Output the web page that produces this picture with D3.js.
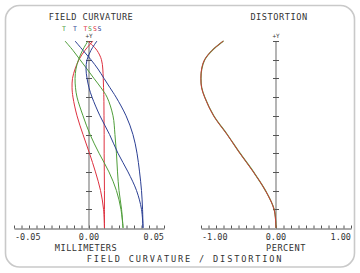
<!DOCTYPE html>
<html><head><meta charset="utf-8">
<script src="https://cdn.jsdelivr.net/npm/d3@7"></script>
<style>html,body{margin:0;padding:0;background:#fff;}svg{display:block;}</style>
</head><body>
<script>
// ---- data ----
const field = [0, 0.1, 0.2, 0.3, 0.4, 0.5, 0.6, 0.7, 0.75, 0.8, 0.85, 0.9, 0.95, 1.0];
// field curvature (mm)
const greenT = [0.0227, 0.0217, 0.0200, 0.0190, 0.0183, 0.0173, 0.0160, 0.0120, 0.0080, 0.0033, -0.0013, -0.0060, -0.0107, -0.0160];
const greenS = [0.0227, 0.0213, 0.0183, 0.0133, 0.0067, 0.0007, -0.0040, -0.0080, -0.0090, -0.0093, -0.0087, -0.0070, -0.0043, -0.0007];
const blueT  = [0.0360, 0.0357, 0.0350, 0.0337, 0.0320, 0.0293, 0.0247, 0.0180, 0.0140, 0.0100, 0.0060, 0.0013, -0.0040, -0.0093];
const blueS  = [0.0360, 0.0350, 0.0317, 0.0260, 0.0193, 0.0137, 0.0073, 0.0020, 0.0000, -0.0013, -0.0020, -0.0013, 0.0013, 0.0053];
const redT   = [0.0103, 0.0103, 0.0103, 0.0102, 0.0101, 0.0101, 0.0100, 0.0099, 0.0097, 0.0095, 0.0092, 0.0083, 0.0053, -0.0007];
const redS   = [0.0103, 0.0097, 0.0077, 0.0043, 0.0003, -0.0040, -0.0080, -0.0107, -0.0113, -0.0110, -0.0093, -0.0067, -0.0027, 0.0027];
// distortion (percent)
const distGreen = [0, -0.025, -0.14, -0.30, -0.48, -0.65, -0.83, -0.95, -0.99, -1.00, -0.99, -0.95, -0.85, -0.70];
const distRed   = [0, -0.026, -0.141, -0.302, -0.482, -0.652, -0.832, -0.952, -0.992, -1.002, -0.992, -0.952, -0.852, -0.702];
// ticks / labels
const fcTickLabels = ["-0.05", "0.00", "0.05"];
const fcTickValues = [-0.05, 0, 0.05];
const dTickLabels = ["-1.00", "0.00", "1.00"];
const dTickValues = [-1, 0, 1];
const legendText = ["T", "T", "T", "S", "S", "S"];
const legendColor = ["green", "blue", "red", "green", "red", "blue"];
const legendAt = [-0.0167, -0.0093, -0.0023, 0.0007, 0.0040, 0.0070];

const colors = {green:"#4f9e3a", blue:"#2b3f94", red:"#de3140"};
const W = 360, H = 273;
const font = "'DejaVu Sans Mono', monospace";
const axisColor = "#555";

const svg = d3.select("body").append("svg").attr("width", W).attr("height", H);
svg.append("rect").attr("width", W).attr("height", H).attr("fill", "#fff");
svg.append("rect").attr("x", 5.5).attr("y", 5.5).attr("width", 349).attr("height", 261.5)
  .attr("rx", 14).attr("fill", "none").attr("stroke", "#c9c9c9").attr("stroke-width", 1.6);

const yS = d3.scaleLinear().domain([0, 1]).range([228, 41]);
const xFC = d3.scaleLinear().domain([-0.05, 0.05]).range([14, 164]);
const xD = d3.scaleLinear().domain([-1, 1]).range([201, 351]);

function drawAxes(x, zeroX, step, tickVals, tickLabels) {
  const g = svg.append("g");
  const ax = d3.axisTop(x).tickValues(d3.range(x.domain()[0], x.domain()[1] + step/2, step))
    .tickSizeInner(3).tickSizeOuter(0).tickFormat("");
  const gx = g.append("g").attr("transform", "translate(0,228.5)").call(ax);
  gx.selectAll("path,line").attr("stroke", axisColor).attr("stroke-width", 1);
  g.append("line").attr("x1", zeroX).attr("x2", zeroX).attr("y1", yS(1)).attr("y2", yS(0))
    .attr("stroke", "#777").attr("stroke-width", 1.1);
  g.selectAll(".yt").data(yS.ticks(10).filter(d => d > 0)).enter().append("line")
    .attr("x1", zeroX - 3).attr("x2", zeroX + 3).attr("y1", d => Math.round(yS(d)) + 0.5).attr("y2", d => Math.round(yS(d)) + 0.5)
    .attr("stroke", axisColor).attr("stroke-width", 1);
  tickVals.forEach((v, i) => {
    const anchor = i === 0 ? "start" : (i === tickVals.length - 1 ? "end" : "middle");
    g.append("text").attr("x", x(v) + (i === 0 ? 1 : 0)).attr("y", 240).attr("text-anchor", anchor)
      .attr("font-family", font).attr("font-size", 8.5).attr("fill", "#333").text(tickLabels[i]);
  });
  g.append("text").attr("x", zeroX).attr("y", 37.5).attr("text-anchor", "middle")
    .attr("font-family", font).attr("font-size", 6).attr("fill", "#333").text("+Y");
}

drawAxes(xFC, xFC(0), 0.005, fcTickValues, fcTickLabels);
drawAxes(xD, xD(0), 0.1, dTickValues, dTickLabels);

const line = (x) => d3.line().x(d => x(d[0])).y(d => yS(d[1])).curve(d3.curveCatmullRom.alpha(0.5));
const series = [
  {v: redT, c: "red"}, {v: redS, c: "red"},
  {v: greenT, c: "green"}, {v: greenS, c: "green"},
  {v: blueT, c: "blue"}, {v: blueS, c: "blue"}
];
series.forEach(s => {
  svg.append("path").datum(s.v.map((v, i) => [v, field[i]])).attr("d", line(xFC))
    .attr("fill", "none").attr("stroke", colors[s.c]).attr("stroke-width", 1);
});
svg.append("path").datum(distGreen.map((v, i) => [v, field[i]])).attr("d", line(xD))
  .attr("fill", "none").attr("stroke", colors.green).attr("stroke-width", 1.2);
svg.append("path").datum(distRed.map((v, i) => [v, field[i]])).attr("d", line(xD))
  .attr("fill", "none").attr("stroke", "#cc3a3a").attr("stroke-width", 1);

legendText.forEach((t, i) => {
  svg.append("text").attr("x", xFC(legendAt[i])).attr("y", 30.5).attr("text-anchor", "middle")
    .attr("font-family", font).attr("font-size", 6.5).attr("fill", colors[legendColor[i]]).text(t);
});

const txt = (x, y, s, size, ls) => svg.append("text").attr("x", x).attr("y", y).attr("text-anchor", "middle")
  .attr("font-family", font).attr("font-size", size).attr("letter-spacing", ls).attr("fill", "#333").text(s);
txt(91, 19.5, "FIELD CURVATURE", 8.6, 0.45);
txt(279, 19.5, "DISTORTION", 8.6, 0.55);
txt(86, 251, "MILLIMETERS", 8.6, 0.5);
txt(286, 251, "PERCENT", 8.6, 0.55);
txt(185, 261.5, "FIELD CURVATURE / DISTORTION", 8.6, 1.85);
</script>
</body></html>
